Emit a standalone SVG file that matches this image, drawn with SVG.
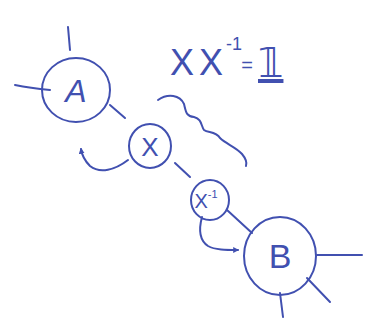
<svg xmlns="http://www.w3.org/2000/svg" width="374" height="326" viewBox="0 0 374 326">
<style>
.s{fill:none;stroke:#4150b0;stroke-width:2;stroke-linecap:round;stroke-linejoin:round}
.t{fill:#4150b0;font-family:"Liberation Sans","DejaVu Sans",sans-serif;text-anchor:middle}
</style>
<defs>
<marker id="ah" viewBox="0 0 10 10" refX="8" refY="5" markerWidth="6" markerHeight="6" orient="auto-start-reverse" markerUnits="userSpaceOnUse">
<path d="M0,0 L10,5 L0,10 z" fill="#4150b0"/>
</marker>
</defs>
<rect width="374" height="326" fill="#ffffff"/>
<g id="title">
<text class="t" x="170" y="75" font-size="36" font-weight="300" style="text-anchor:start" letter-spacing="5">XX</text>
<text class="t" x="234" y="50" font-size="18">-1</text>
<text class="t" x="247" y="72" font-size="20">=</text>
<text class="t" x="258" y="77" font-size="40" style="text-anchor:start" text-decoration="underline">𝟙</text>
</g>
<g id="connectors">
<path class="s" d="M68,27 L70,50"/>
<path class="s" d="M15,85 Q30,88 50,90"/>
<path class="s" d="M110,105 L125,118"/>
<path class="s" d="M175,163 L190,177"/>
<path class="s" d="M227,210 L252,233"/>
<path class="s" d="M317,255 L362,255"/>
<path class="s" d="M307,278 L330,302"/>
<path class="s" d="M280,293 L283,317"/>
<path class="s" d="M128,160 C115,170 100,174 90,166 C85,161 82,156 81,149" marker-end="url(#ah)"/>
<path class="s" d="M202,217 C199,228 199,240 208,246 C215,250 226,250 238,250" marker-end="url(#ah)"/>
<path class="s" d="M158,100 C168,93 180,95 184,104 C186,112 186,116 194,117 C202,119 201,126 204,130 C208,133 216,131 220,138 C226,144 236,147 242,154 C247,160 247,163 246,166"/>
</g>
<g id="nodeA">
<ellipse class="s" cx="76" cy="90" rx="34" ry="32"/>
<text class="t" x="76" y="102" font-size="32" font-style="italic">A</text>
</g>
<g id="nodeX">
<ellipse class="s" cx="150" cy="146" rx="21" ry="22"/>
<text class="t" x="150" y="156" font-size="26">X</text>
</g>
<g id="nodeXinv">
<ellipse class="s" cx="210" cy="200" rx="19" ry="20"/>
<text class="t" x="206" y="208" font-size="20">X<tspan font-size="11" dy="-10">-1</tspan></text>
</g>
<g id="nodeB">
<ellipse class="s" cx="280" cy="256" rx="36" ry="39"/>
<text class="t" x="280" y="268" font-size="34">B</text>
</g>
</svg>
